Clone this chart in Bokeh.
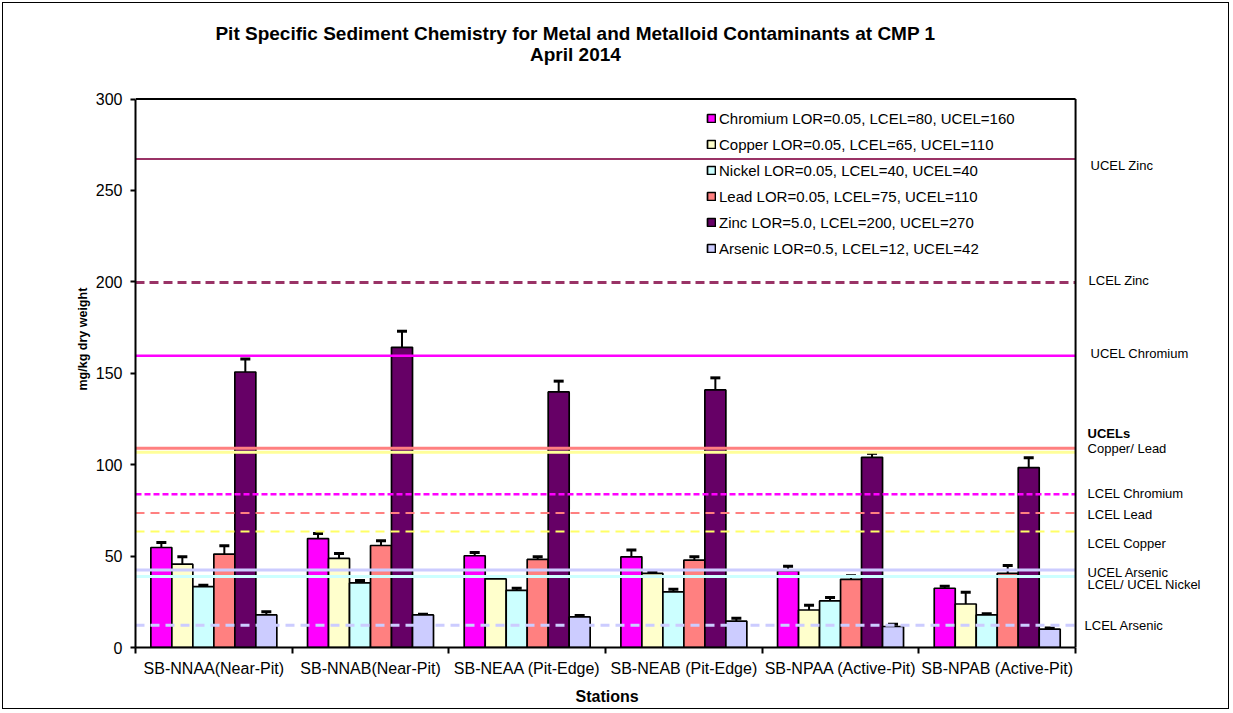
import numpy as np
from bokeh.plotting import figure
from bokeh.models import (ColumnDataSource, Range1d, FixedTicker, Label, Title,
                          Whisker, TeeHead, Legend, LegendItem)
from bokeh.embed import file_html
from bokeh.resources import INLINE

# ---------------- data ----------------
stations = ["SB-NNAA(Near-Pit)", "SB-NNAB(Near-Pit)", "SB-NEAA (Pit-Edge)",
            "SB-NEAB (Pit-Edge)", "SB-NPAA (Active-Pit)", "SB-NPAB (Active-Pit)"]

metals = ["Chromium", "Copper", "Nickel", "Lead", "Zinc", "Arsenic"]
legend_labels = ["Chromium LOR=0.05, LCEL=80, UCEL=160",
                 "Copper LOR=0.05, LCEL=65, UCEL=110",
                 "Nickel LOR=0.05, LCEL=40, UCEL=40",
                 "Lead LOR=0.05, LCEL=75, UCEL=110",
                 "Zinc LOR=5.0, LCEL=200, UCEL=270",
                 "Arsenic LOR=0.5, LCEL=12, UCEL=42"]
colors = ["#FF00FF", "#FFFFCC", "#CCFFFF", "#FF8080", "#660066", "#CCCCFF"]

chromium = [54.7, 59.6, 50.2, 49.6, 42.0, 32.4]
chromium_err = [2.8, 2.8, 1.8, 3.7, 2.4, 1.1]
copper = [45.6, 48.7, 37.5, 40.5, 20.5, 23.8]
copper_err = [4.0, 2.7, 0.3, 1.1, 2.6, 6.4]
nickel = [33.3, 35.3, 31.3, 30.4, 25.5, 17.8]
nickel_err = [0.7, 1.4, 1.1, 1.4, 1.9, 0.6]
lead = [51.1, 55.8, 48.2, 47.8, 37.3, 40.5]
lead_err = [4.5, 2.6, 1.4, 1.8, 2.0, 4.4]
zinc = [150.7, 164.2, 139.8, 140.9, 104.0, 98.4]
zinc_err = [7.1, 8.8, 5.9, 6.6, 2.2, 5.4]
arsenic = [17.8, 17.8, 16.7, 14.4, 11.5, 10.0]
arsenic_err = [1.8, 0.4, 0.8, 1.6, 1.2, 0.7]

values = [chromium, copper, nickel, lead, zinc, arsenic]
errors = [chromium_err, copper_err, nickel_err, lead_err, zinc_err, arsenic_err]

y_ticks = [0, 50, 100, 150, 200, 250, 300]

# guideline levels (as drawn in the chart)
guide_levels = [267.2, 199.6, 159.6, 109.0, 106.8, 83.8, 73.6, 63.4, 42.4, 38.8, 12.2]
guide_colors = ["#993366", "#993366", "#FF00FF", "#FF8080", "#FFFF99", "#FF00FF",
                "#FF8080", "#FFFF66", "#CCCCFF", "#CCFFFF", "#CCCCFF"]
guide_dash = ["solid", "9 5", "solid", "solid", "solid", "6 3",
              "9 6", "9 6", "solid", "solid", "9 6"]
guide_width = [2, 3, 2.5, 3, 3, 2.5, 2, 2, 3, 3, 3]

# right-hand annotation texts
side_texts = ["UCEL Zinc", "LCEL Zinc", "UCEL Chromium", "UCELs", "Copper/ Lead",
              "LCEL Chromium", "LCEL Lead", "LCEL Copper", "UCEL Arsenic",
              "LCEL/ UCEL Nickel", "LCEL Arsenic"]
side_y = [263.4, 201.0, 160.6, 116.8, 109.1, 84.5, 73.0, 57.1, 40.9, 34.7, 11.8]
side_dx = [15, 13, 15, 12, 12, 12, 12, 12, 12, 12, 9]

title_lines = ["Pit Specific Sediment Chemistry for Metal and Metalloid Contaminants at CMP 1",
               "April 2014"]
y_label = "mg/kg dry weight"
x_label = "Stations"

FONT = "Liberation Sans"

n_st = len(stations)
n_m = len(metals)
y_top = y_ticks[-1]

p = figure(width=1227, height=707, output_backend="svg", toolbar_location=None,
           x_range=Range1d(0, 6.957), y_range=Range1d(0, 346.8),
           min_border_left=132, min_border_right=5, min_border_top=10,
           min_border_bottom=63)
p.styles = {"border": "1px solid black", "margin-left": "2px", "margin-top": "2px"}
p.xgrid.visible = False
p.ygrid.visible = False
p.outline_line_alpha = 0
p.background_fill_color = "white"
p.border_fill_color = "white"

bw = 0.134
base_x = np.arange(n_st) + 0.5

renderers = []
whiskers = []
for k in range(n_m):
    xs = base_x + (k - (n_m - 1) / 2) * bw
    v = np.array(values[k])
    e = np.array(errors[k])
    src = ColumnDataSource(dict(x=xs, top=v, upper=v + e))
    r = p.vbar(x="x", top="top", width=bw, source=src, fill_color=colors[k],
               line_color="black", line_width=1.7)
    renderers.append(r)
    whiskers.append(Whisker(source=src, base="x", upper="upper", lower="top",
                            upper_head=TeeHead(size=10, line_width=3, line_color="black"),
                            lower_head=None, line_color="black", line_width=2))

# guideline lines across the data area
for lvl, c, d, lw in zip(guide_levels, guide_colors, guide_dash, guide_width):
    p.segment(x0=[0], y0=[lvl], x1=[n_st], y1=[lvl], line_color=c,
              line_dash=d, line_width=lw)

for w in whiskers:
    p.add_layout(w)

# top and right edges of the plotting area
p.segment(x0=[0, n_st], y0=[y_top, 0], x1=[n_st, n_st], y1=[y_top, y_top],
          line_color="black", line_width=2)

legend = Legend(items=[LegendItem(label=legend_labels[k], renderers=[renderers[k]])
                       for k in range(n_m)],
                location=(571, 389), padding=0, margin=0, spacing=6,
                label_height=20, glyph_height=10, glyph_width=10, label_standoff=3,
                label_text_font=FONT, label_text_font_size="15px",
                label_text_color="black", border_line_alpha=0,
                background_fill_alpha=0)
p.add_layout(legend)

# axes
xa = p.xaxis[0]
xa.bounds = (0, n_st)
xa.ticker = FixedTicker(ticks=list(base_x), minor_ticks=list(range(n_st + 1)))
xa.major_label_overrides = {float(base_x[i]): stations[i] for i in range(n_st)}
xa.major_tick_out = 0
xa.major_tick_in = 0
xa.major_tick_line_alpha = 0
xa.minor_tick_out = 6
xa.minor_tick_in = 0
xa.minor_tick_line_width = 2
xa.minor_tick_line_color = "black"
xa.major_label_standoff = 6
xa.major_label_text_font = FONT
xa.major_label_text_font_size = "16px"
xa.major_label_text_color = "black"
xa.axis_line_width = 2
xa.axis_line_color = "black"

p.add_layout(Title(text=x_label, align="left", offset=440, standoff=12,
                   text_font=FONT, text_font_size="16px", text_font_style="bold",
                   text_color="black"), "below")

ya = p.yaxis[0]
ya.bounds = (0, y_top)
ya.ticker = FixedTicker(ticks=y_ticks)
ya.minor_tick_line_alpha = 0
ya.major_tick_out = 5
ya.major_tick_in = 0
ya.major_tick_line_width = 2
ya.major_label_standoff = 8
ya.major_label_text_font = FONT
ya.major_label_text_font_size = "16px"
ya.major_label_text_color = "black"
ya.axis_line_width = 2
ya.axis_line_color = "black"

p.add_layout(Title(text=y_label, align="left", offset=257, standoff=5,
                   text_font=FONT, text_font_size="12.5px", text_font_style="bold",
                   text_color="black"), "left")

# title
for txt, yy in zip(title_lines, [335.8, 324.6]):
    p.add_layout(Label(x=2.808, y=yy, text=txt, text_align="center",
                       text_baseline="middle", text_font=FONT,
                       text_font_size="19px", text_font_style="bold",
                       text_color="black"))

# side labels
for txt, yy, dx in zip(side_texts, side_y, side_dx):
    p.add_layout(Label(x=n_st, y=yy, x_offset=dx, text=txt, text_align="left",
                       text_baseline="middle", text_font=FONT,
                       text_font_size="13px",
                       text_font_style="bold" if txt == "UCELs" else "normal",
                       text_color="black"))

open("out.html", "w").write(file_html(p, INLINE))
